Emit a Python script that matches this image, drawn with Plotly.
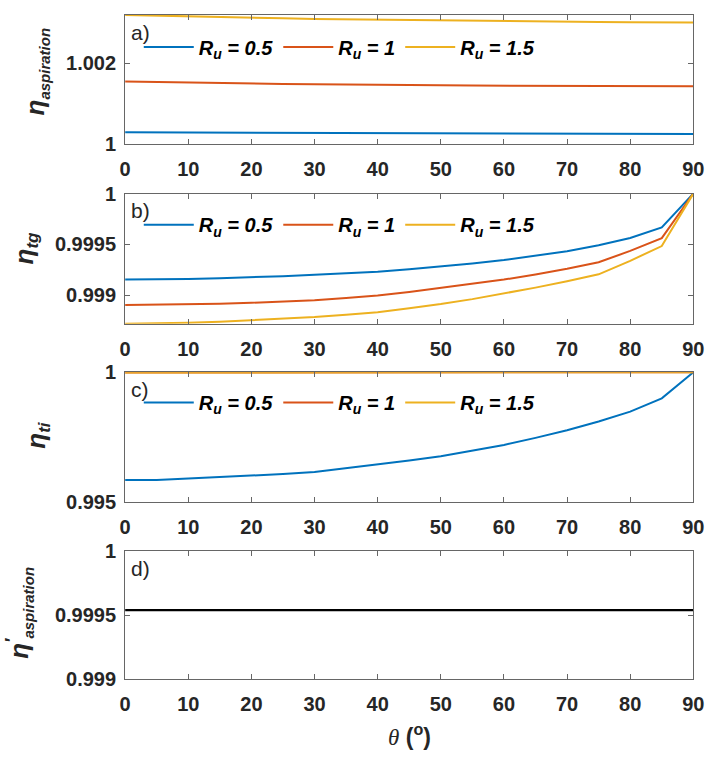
import plotly.graph_objects as go

theta = [0, 5, 10, 15, 20, 25, 30, 35, 40, 45, 50, 55, 60, 65, 70, 75, 80, 85, 90]

# panel a: eta_aspiration
asp_05 = [1.00029, 1.000288, 1.000285, 1.000282, 1.00028, 1.000277, 1.000274, 1.000272, 1.00027, 1.000268,
          1.000266, 1.000264, 1.000262, 1.00026, 1.000258, 1.000256, 1.000255, 1.000253, 1.000252]
asp_1 = [1.00155, 1.001535, 1.00152, 1.00151, 1.0015, 1.00149, 1.00148, 1.00147, 1.001465, 1.00146,
         1.001455, 1.00145, 1.001445, 1.00144, 1.001437, 1.001435, 1.001433, 1.001431, 1.00143]
asp_15 = [1.0032, 1.00318, 1.00316, 1.003145, 1.00313, 1.003115, 1.0031, 1.00309, 1.00308, 1.00307,
          1.00306, 1.003052, 1.003045, 1.003038, 1.003031, 1.003025, 1.00302, 1.003015, 1.00301]

# panel b: eta_tg
tg_05 = [0.999154, 0.999155, 0.99916, 0.999167, 0.999176, 0.999188, 0.999202, 0.999216, 0.999232, 0.999256,
         0.999283, 0.999312, 0.999346, 0.999387, 0.999433, 0.999492, 0.999564, 0.999667, 1.0]
tg_1 = [0.998904, 0.998906, 0.99891, 0.998917, 0.998926, 0.998938, 0.998952, 0.998972, 0.998997, 0.999033,
        0.999074, 0.999112, 0.999154, 0.999205, 0.99926, 0.999325, 0.999436, 0.999562, 1.0]
tg_15 = [0.99872, 0.998722, 0.99873, 0.99874, 0.998753, 0.998768, 0.998785, 0.998808, 0.998834, 0.998872,
         0.998913, 0.998962, 0.999017, 0.999075, 0.999138, 0.999206, 0.999339, 0.999484, 1.0]

# panel c: eta_ti
ti_05 = [0.99586, 0.99586, 0.99592, 0.99597, 0.99602, 0.99609, 0.99617, 0.99631, 0.99646, 0.99661,
         0.99677, 0.99698, 0.99721, 0.99748, 0.99777, 0.99811, 0.99849, 0.999, 1.0]
ti_1 = [0.99999] * 18 + [1.0]
ti_15 = [0.999993] * 18 + [1.0]

# panel d: eta'_aspiration
asp_prime = [0.999538] * 19

series_names = ["R<sub>u</sub> = 0.5", "R<sub>u</sub> = 1", "R<sub>u</sub> = 1.5"]
colors = ["#0072BD", "#D95319", "#EDB120"]

x_ticks = [0, 10, 20, 30, 40, 50, 60, 70, 80, 90]
a_ticks = [1, 1.002]
a_ticktext = ["1", "1.002"]
b_ticks = [0.999, 0.9995, 1]
b_ticktext = ["0.999", "0.9995", "1"]
c_ticks = [0.995, 1]
c_ticktext = ["0.995", "1"]
d_ticks = [0.999, 0.9995, 1]
d_ticktext = ["0.999", "0.9995", "1"]

W, H = 718, 764
FONT = "Liberation Sans"
TXT = "#262626"
AX = "#666666"

fig = go.Figure()

def add_panel(idx, ys, legend_name):
    xa = "x" if idx == 1 else f"x{idx}"
    ya = "y" if idx == 1 else f"y{idx}"
    for y, n, c in zip(ys, series_names, colors):
        fig.add_trace(go.Scatter(x=theta, y=y, mode="lines", name=n,
                                 line=dict(color=c, width=2),
                                 xaxis=xa, yaxis=ya, legend=legend_name))

add_panel(1, [asp_05, asp_1, asp_15], "legend2")
add_panel(2, [tg_05, tg_1, tg_15], "legend3")
add_panel(3, [ti_05, ti_1, ti_15], "legend4")
fig.add_trace(go.Scatter(x=theta, y=asp_prime, mode="lines", line=dict(color="black", width=2.2),
                         xaxis="x4", yaxis="y4", showlegend=False))

xdom = [122 / W, 704 / W]
panels = [  # (top px, bottom px)
    (4, 137), (188, 322), (372, 506), (556, 688)
]
yranges = [[1.0, 1.0032], [0.99872, 1.0], [0.995, 1.0], [0.999, 1.0]]
yticks = [(a_ticks, a_ticktext), (b_ticks, b_ticktext), (c_ticks, c_ticktext), (d_ticks, d_ticktext)]

tickfont = dict(family=FONT, size=20, color=TXT, weight="bold")
layout = dict(width=W, height=H, margin=dict(l=0, r=0, t=0, b=0),
              paper_bgcolor="white", plot_bgcolor="white", showlegend=True)
for i, ((top, bot), yr, (tv, tt)) in enumerate(zip(panels, yranges, yticks), start=1):
    suf = "" if i == 1 else str(i)
    layout[f"xaxis{suf}"] = dict(domain=xdom, range=[0, 90], tickvals=x_ticks, ticks="inside",
                                 ticklen=5, tickcolor=AX, linecolor=AX, linewidth=1, mirror="ticks",
                                 showline=True, showgrid=False, zeroline=False, tickfont=tickfont,
                                 anchor=f"y{suf}", ticklabelstandoff=7)
    layout[f"yaxis{suf}"] = dict(domain=[1 - bot / H, 1 - top / H], range=yr, tickvals=tv, ticktext=tt,
                                 ticks="inside", ticklen=5, tickcolor=AX, linecolor=AX, linewidth=1,
                                 mirror="ticks", showline=True, showgrid=False, zeroline=False,
                                 tickfont=tickfont, anchor=f"x{suf}", ticklabelstandoff=4)

legfont = dict(family=FONT, size=20, color="black", weight="bold", style="italic")
legy = [37, 220, 403]
for i, ly in enumerate(legy):
    name = f"legend{i + 2}"
    layout[name] = dict(orientation="h", x=136 / W, xanchor="left", y=1 - ly / H, yanchor="middle",
                        font=legfont, bgcolor="rgba(0,0,0,0)", borderwidth=0, itemwidth=50,
                        traceorder="normal")

fig.update_layout(**layout)

labfont = dict(family=FONT, size=21, color=TXT)
for lab, (top, bot) in zip(["a)", "b)", "c)", "d)"], panels):
    fig.add_annotation(text=lab, xref="paper", yref="paper", x=126 / W, y=1 - (top + 4) / H,
                       xanchor="left", yanchor="top", showarrow=False, font=labfont)

ytitles = [
    ("<i>η<sub><span style='font-size:15px'>aspiration</span></sub></i>", 31, 62),
    ("<i>η<sub><span style='font-size:17px'>tg</span></sub></i>", 20, 244),
    ("<i>η<sub><span style='font-size:17px'>ti</span></sub></i>", 32, 436),
    ("<i>η<sup>′</sup><sub><span style='font-size:15px'>aspiration</span></sub></i>", 13, 620),
]
for t, x, y in ytitles:
    fig.add_annotation(text=t, xref="paper", yref="paper", x=x / W, y=1 - y / H, textangle=-90,
                       xanchor="center", yanchor="middle", showarrow=False,
                       font=dict(family=FONT, size=26, color=TXT, weight="bold"))

fig.add_annotation(text="<span style='font-family:Liberation Serif'><i>θ</i></span> <b>(<sup>o</sup>)</b>",
                   xref="paper", yref="paper", x=413 / W, y=1 - 745 / H,
                   xanchor="center", yanchor="middle", showarrow=False,
                   font=dict(family=FONT, size=23, color=TXT))

fig.write_html("out.html")
